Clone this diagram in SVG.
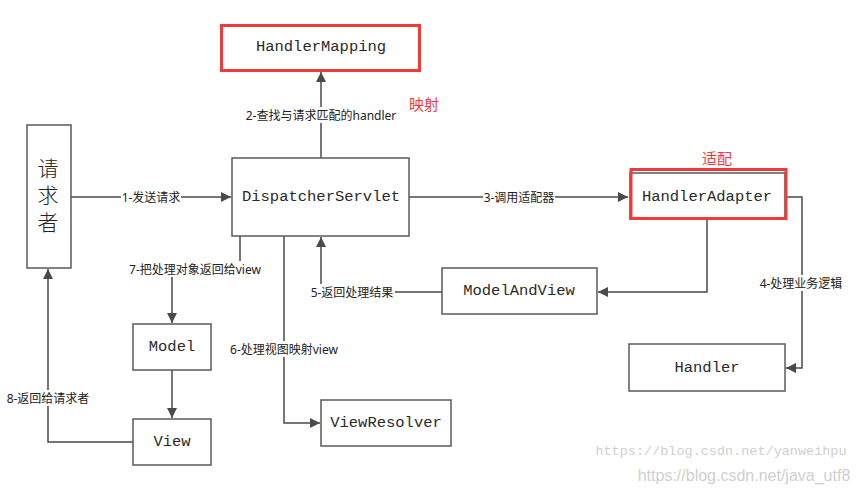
<svg xmlns="http://www.w3.org/2000/svg" width="858" height="493" viewBox="0 0 858 493">
<defs>
<style>
.box{fill:#fff;stroke:#5a5a5a;stroke-width:1.5}
.red{fill:none;stroke:#f03a3a;stroke-width:3}
.nt{font-family:"Liberation Mono","DejaVu Sans Mono",monospace;font-size:15.5px;fill:#2a2a2a;text-anchor:middle;dominant-baseline:central}
.cjk{font-family:"Noto Sans CJK SC","Noto Sans",sans-serif;font-size:21px;fill:#222;font-weight:300;writing-mode:vertical-rl;letter-spacing:6px;text-anchor:middle;dominant-baseline:central}
.ln{fill:none;stroke:#4a4a4a;stroke-width:1.5}
.lb{font-family:"Noto Sans","Noto Sans CJK SC",sans-serif;font-size:12px;fill:#222;text-anchor:middle;dominant-baseline:central}
.lbg{fill:#fff}
.rt{font-family:"Noto Sans CJK SC",sans-serif;font-size:15px;fill:#f03a3a;text-anchor:middle;dominant-baseline:central}
.wm1{font-family:"Liberation Mono",monospace;font-size:13.5px;fill:#cfcfcf;text-anchor:middle;dominant-baseline:central}
.wm2{font-family:"Liberation Sans",Arial,sans-serif;font-size:16px;fill:#cfcfcf;text-anchor:middle;dominant-baseline:central}
</style>
<marker id="ah" viewBox="0 0 10 10" refX="10" refY="5" markerWidth="10" markerHeight="10" markerUnits="userSpaceOnUse" orient="auto">
<path d="M0,0 L10,5 L0,10 Z" fill="#4a4a4a"/>
</marker>
</defs>
<rect width="858" height="493" fill="#fff"/>

<g id="connectors">
<path class="ln" d="M321,158 V72" marker-end="url(#ah)"/>
<path class="ln" d="M71,197 H231" marker-end="url(#ah)"/>
<path class="ln" d="M409,197 H628" marker-end="url(#ah)"/>
<path class="ln" d="M787,197 H802 V368 H786" marker-end="url(#ah)"/>
<path class="ln" d="M707,219 V292 H598" marker-end="url(#ah)"/>
<path class="ln" d="M442,292 H321 V237" marker-end="url(#ah)"/>
<path class="ln" d="M284,236 V423 H320" marker-end="url(#ah)"/>
<path class="ln" d="M240,236 V269 H172 V323" marker-end="url(#ah)"/>
<path class="ln" d="M172,370 V418" marker-end="url(#ah)"/>
<path class="ln" d="M133,442 H48 V269" marker-end="url(#ah)"/>

<rect class="lbg" x="247" y="107" width="148" height="16"/>
<text class="lb" x="321" y="115">2-查找与请求匹配的handler</text>
<rect class="lbg" x="121" y="189" width="60" height="16"/>
<text class="lb" x="151" y="197">1-发送请求</text>
<rect class="lbg" x="483" y="189" width="72" height="16"/>
<text class="lb" x="519" y="197">3-调用适配器</text>
<rect class="lbg" x="758" y="275" width="86" height="16"/>
<text class="lb" x="801" y="283">4-处理业务逻辑</text>
<rect class="lbg" x="309" y="284" width="86" height="16"/>
<text class="lb" x="352" y="292">5-返回处理结果</text>
<rect class="lbg" x="230" y="341" width="108" height="16"/>
<text class="lb" x="284" y="349">6-处理视图映射view</text>
<rect class="lbg" x="128" y="261" width="134" height="16"/>
<text class="lb" x="195" y="269">7-把处理对象返回给view</text>
<rect class="lbg" x="6" y="390" width="84" height="16"/>
<text class="lb" x="48" y="398">8-返回给请求者</text>
</g>

<g id="handlerMapping">
<rect class="red" x="221.5" y="25.5" width="198" height="45"/>
<text class="nt" x="321" y="47">HandlerMapping</text>
</g>
<text class="rt" x="424" y="103">映射</text>

<g id="requester">
<rect class="box" x="27" y="125" width="44" height="143"/>
<text class="cjk" x="48" y="198">请求者</text>
</g>

<g id="dispatcherServlet">
<rect class="box" x="232" y="158" width="177" height="78"/>
<text class="nt" x="321" y="197">DispatcherServlet</text>
</g>

<g id="handlerAdapter">
<rect class="box" x="630" y="173" width="155" height="46"/>
<rect class="red" x="631" y="169.5" width="155" height="49"/>
<text class="nt" x="707" y="197">HandlerAdapter</text>
</g>
<text class="rt" x="717" y="157">适配</text>

<g id="modelAndView">
<rect class="box" x="442" y="268" width="155" height="46"/>
<text class="nt" x="519" y="291">ModelAndView</text>
</g>

<g id="handler">
<rect class="box" x="629" y="344" width="156" height="47"/>
<text class="nt" x="707" y="368">Handler</text>
</g>

<g id="model">
<rect class="box" x="133" y="324" width="78" height="46"/>
<text class="nt" x="172" y="347">Model</text>
</g>

<g id="view">
<rect class="box" x="133" y="419" width="78" height="46"/>
<text class="nt" x="172" y="442">View</text>
</g>

<g id="viewResolver">
<rect class="box" x="321" y="400" width="130" height="46"/>
<text class="nt" x="386" y="423">ViewResolver</text>
</g>

<text class="wm1" x="721" y="451">https://blog.csdn.net/yanweihpu</text>
<text class="wm2" x="744" y="475">https://blog.csdn.net/java_utf8</text>
</svg>
